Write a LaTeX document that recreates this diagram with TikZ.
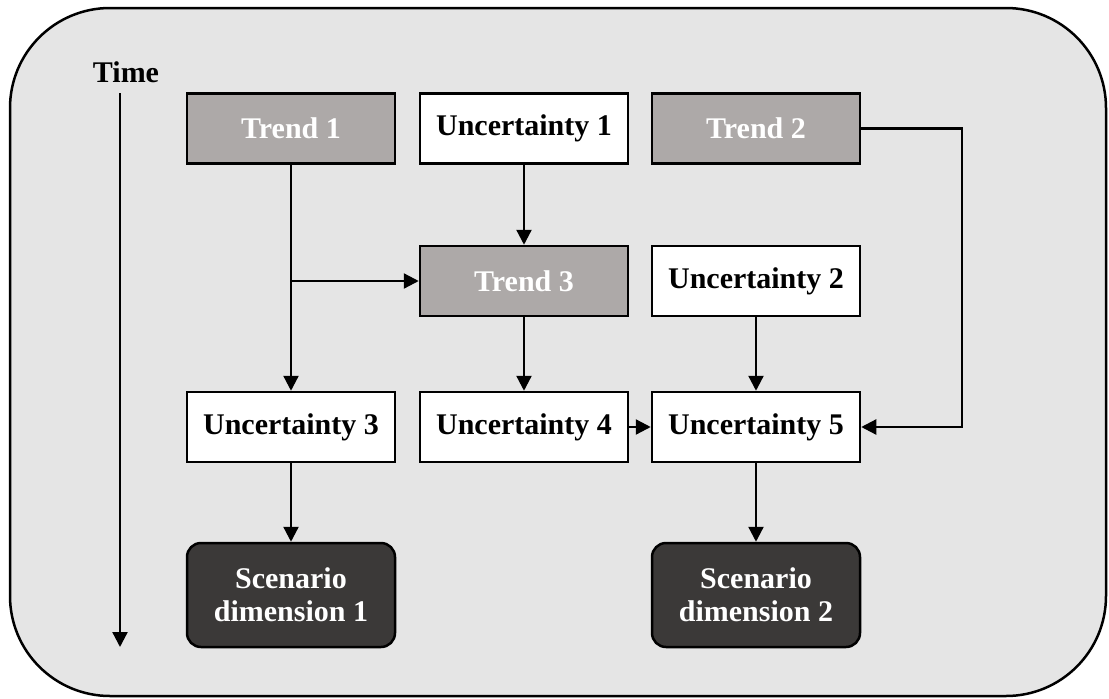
\documentclass[tikz,border=0pt]{standalone}
\usepackage{fontspec}
\setmainfont{Liberation Serif}
\usetikzlibrary{arrows.meta}
\definecolor{panelbg}{HTML}{E5E5E5}
\definecolor{trendgray}{HTML}{ADA9A8}
\definecolor{scenariodark}{HTML}{3B3938}
\tikzset{
  every node/.style={font=\fontsize{30}{33}\selectfont\bfseries, inner sep=0pt},
  basebox/.style={draw=black, line width=2.5pt, minimum width=208pt, minimum height=70pt, align=center},
  trendbox/.style={basebox, fill=trendgray, text=white},
  uncbox/.style={basebox, fill=white, text=black},
  scenbox/.style={basebox, fill=scenariodark, text=white, rounded corners=14pt, minimum height=104pt},
  flow/.style={line width=2.3pt, -{Triangle[length=15pt,width=15pt]}},
}
\begin{document}
\begin{tikzpicture}[x=1pt,y=-1pt]
  \useasboundingbox (0,0) rectangle (1109,699);
  % rounded panel behind the flow
  \draw[line width=2.5pt, fill=panelbg, rounded corners=100pt] (10,8) rectangle (1106,696);

  % time axis
  \node (timelabel) at (126,72) {Time};
  \coordinate (tstart) at (120,93);
  \coordinate (tend) at (120,647);
  \draw[flow] (tstart) -- (tend);

  % row 1
  \node[trendbox] (t1) at (291,128.5) {Trend 1};
  \node[uncbox]   (u1) at (524,128.5) {Uncertainty 1};
  \node[trendbox] (t2) at (756,128.5) {Trend 2};
  % row 2
  \node[trendbox] (t3) at (524,281) {Trend 3};
  \node[uncbox]   (u2) at (756,281) {Uncertainty 2};
  % row 3
  \node[uncbox]   (u3) at (291,427) {Uncertainty 3};
  \node[uncbox]   (u4) at (524,427) {Uncertainty 4};
  \node[uncbox]   (u5) at (756,427) {Uncertainty 5};
  % row 4
  \node[scenbox]  (s1) at (291,595) {Scenario\\dimension 1};
  \node[scenbox]  (s2) at (756,595) {Scenario\\dimension 2};

  % connectors
  \draw[flow] (t1) -- (u3);
  \draw[flow] (t1.south |- t3.west) -- (t3.west);
  \draw[flow] (u1) -- (t3);
  \draw[flow] (t3) -- (u4);
  \draw[flow] (u2) -- (u5);
  \draw[flow] (u4) -- (u5);
  \coordinate (bend) at (962,128.5);
  \draw[flow] (t2.east) -- (bend) |- (u5.east);
  \draw[flow] (u3) -- (s1);
  \draw[flow] (u5) -- (s2);
\end{tikzpicture}
\end{document}
